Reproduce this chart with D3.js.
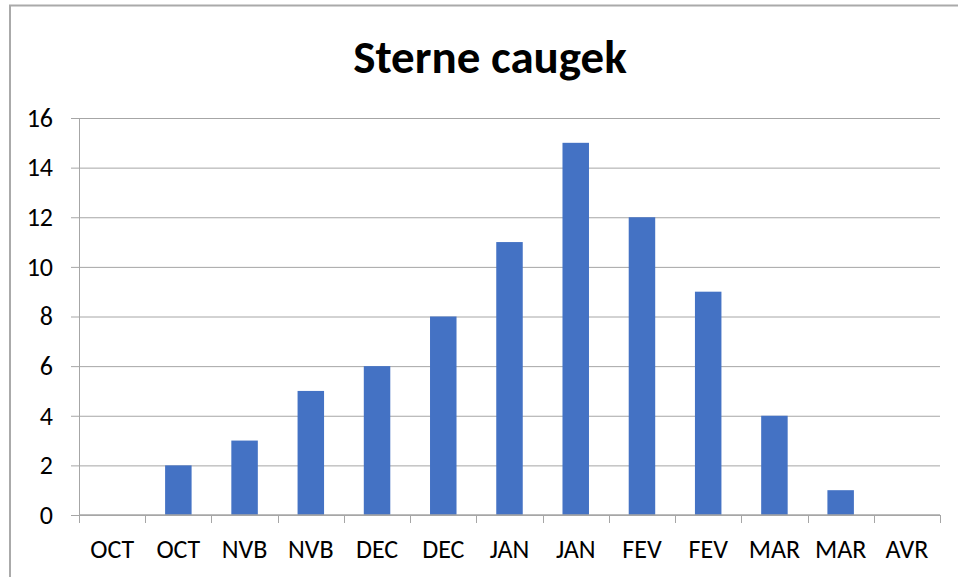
<!DOCTYPE html>
<html>
<head>
<meta charset="utf-8">
<script src="https://cdn.jsdelivr.net/npm/d3@7"></script>
<style>
  body { margin: 0; background: #fff; }
  svg { display: block; font-family: Carlito, Calibri, "Open Sans", sans-serif; }
</style>
</head>
<body>
<svg id="chart" width="958" height="577"></svg>
<script>
const title = 'Sterne caugek';
const months = ['OCT', 'OCT', 'NVB', 'NVB', 'DEC', 'DEC', 'JAN', 'JAN', 'FEV', 'FEV', 'MAR', 'MAR', 'AVR'];
const counts = [0, 2, 3, 5, 6, 8, 11, 15, 12, 9, 4, 1, 0];
const yTicks = [0, 2, 4, 6, 8, 10, 12, 14, 16];

const margin = { top: 118, right: 18, bottom: 62, left: 79 };
const W = 958, H = 577;
const w = W - margin.left - margin.right;
const h = H - margin.top - margin.bottom;
const font = 'Carlito, Calibri, "Open Sans", sans-serif';

const svg = d3.select('#chart');

// outer chart border (only top and left visible in the shot)
svg.append('path')
  .attr('d', 'M10,' + H + 'V5.5H' + W)
  .attr('fill', 'none')
  .attr('stroke', '#aaaaaa')
  .attr('stroke-width', 2);

svg.append('text')
  .attr('x', 490)
  .attr('y', 73)
  .attr('text-anchor', 'middle')
  .style('font-size', '47px')
  .style('font-weight', 'bold')
  .text(title);

const g = svg.append('g').attr('transform', 'translate(' + margin.left + ',' + margin.top + ')');

// index-based band scale since month labels repeat
const xb = d3.scaleBand().domain(d3.range(months.length)).range([0, w]);
const y = d3.scaleLinear().domain([0, 16]).range([h, 0]);
const barW = xb.bandwidth() / 2.5;

// gridlines + y labels
const yAxis = g.append('g')
  .call(d3.axisLeft(y).tickValues(yTicks).tickSize(0).tickPadding(26))
  .attr('font-family', font)
  .attr('font-size', 26);
yAxis.select('.domain').remove();
yAxis.selectAll('.tick line')
  .attr('x1', -8).attr('x2', w)
  .attr('stroke', '#a6a6a6');
yAxis.selectAll('.tick text').attr('fill', '#000');

// vertical axis line
g.append('line')
  .attr('x1', 0.5).attr('x2', 0.5).attr('y1', 0).attr('y2', h + 8)
  .attr('stroke', '#a6a6a6');

// bars
g.selectAll('rect.bar')
  .data(counts)
  .join('rect')
  .attr('class', 'bar')
  .attr('x', (d, i) => xb(i) + (xb.bandwidth() - barW) / 2)
  .attr('width', barW)
  .attr('y', d => y(d))
  .attr('height', d => h - y(d))
  .attr('fill', '#4472c4');

// x axis: baseline + category ticks between bands
const xAxis = g.append('g').attr('transform', 'translate(0,' + h + ')');
xAxis.append('line').attr('x1', 0).attr('x2', w).attr('stroke', '#a6a6a6').attr('stroke-width', 1.3);
xAxis.selectAll('line.tk')
  .data(d3.range(months.length + 1))
  .join('line')
  .attr('class', 'tk')
  .attr('x1', i => Math.round(i * xb.step()) + 0.5)
  .attr('x2', i => Math.round(i * xb.step()) + 0.5)
  .attr('y1', 0).attr('y2', 8)
  .attr('stroke', '#a6a6a6');
xAxis.selectAll('text')
  .data(months)
  .join('text')
  .attr('x', (d, i) => xb(i) + xb.bandwidth() / 2)
  .attr('y', 43)
  .attr('text-anchor', 'middle')
  .style('font-size', '26px')
  .text(d => d);
</script>
</body>
</html>
